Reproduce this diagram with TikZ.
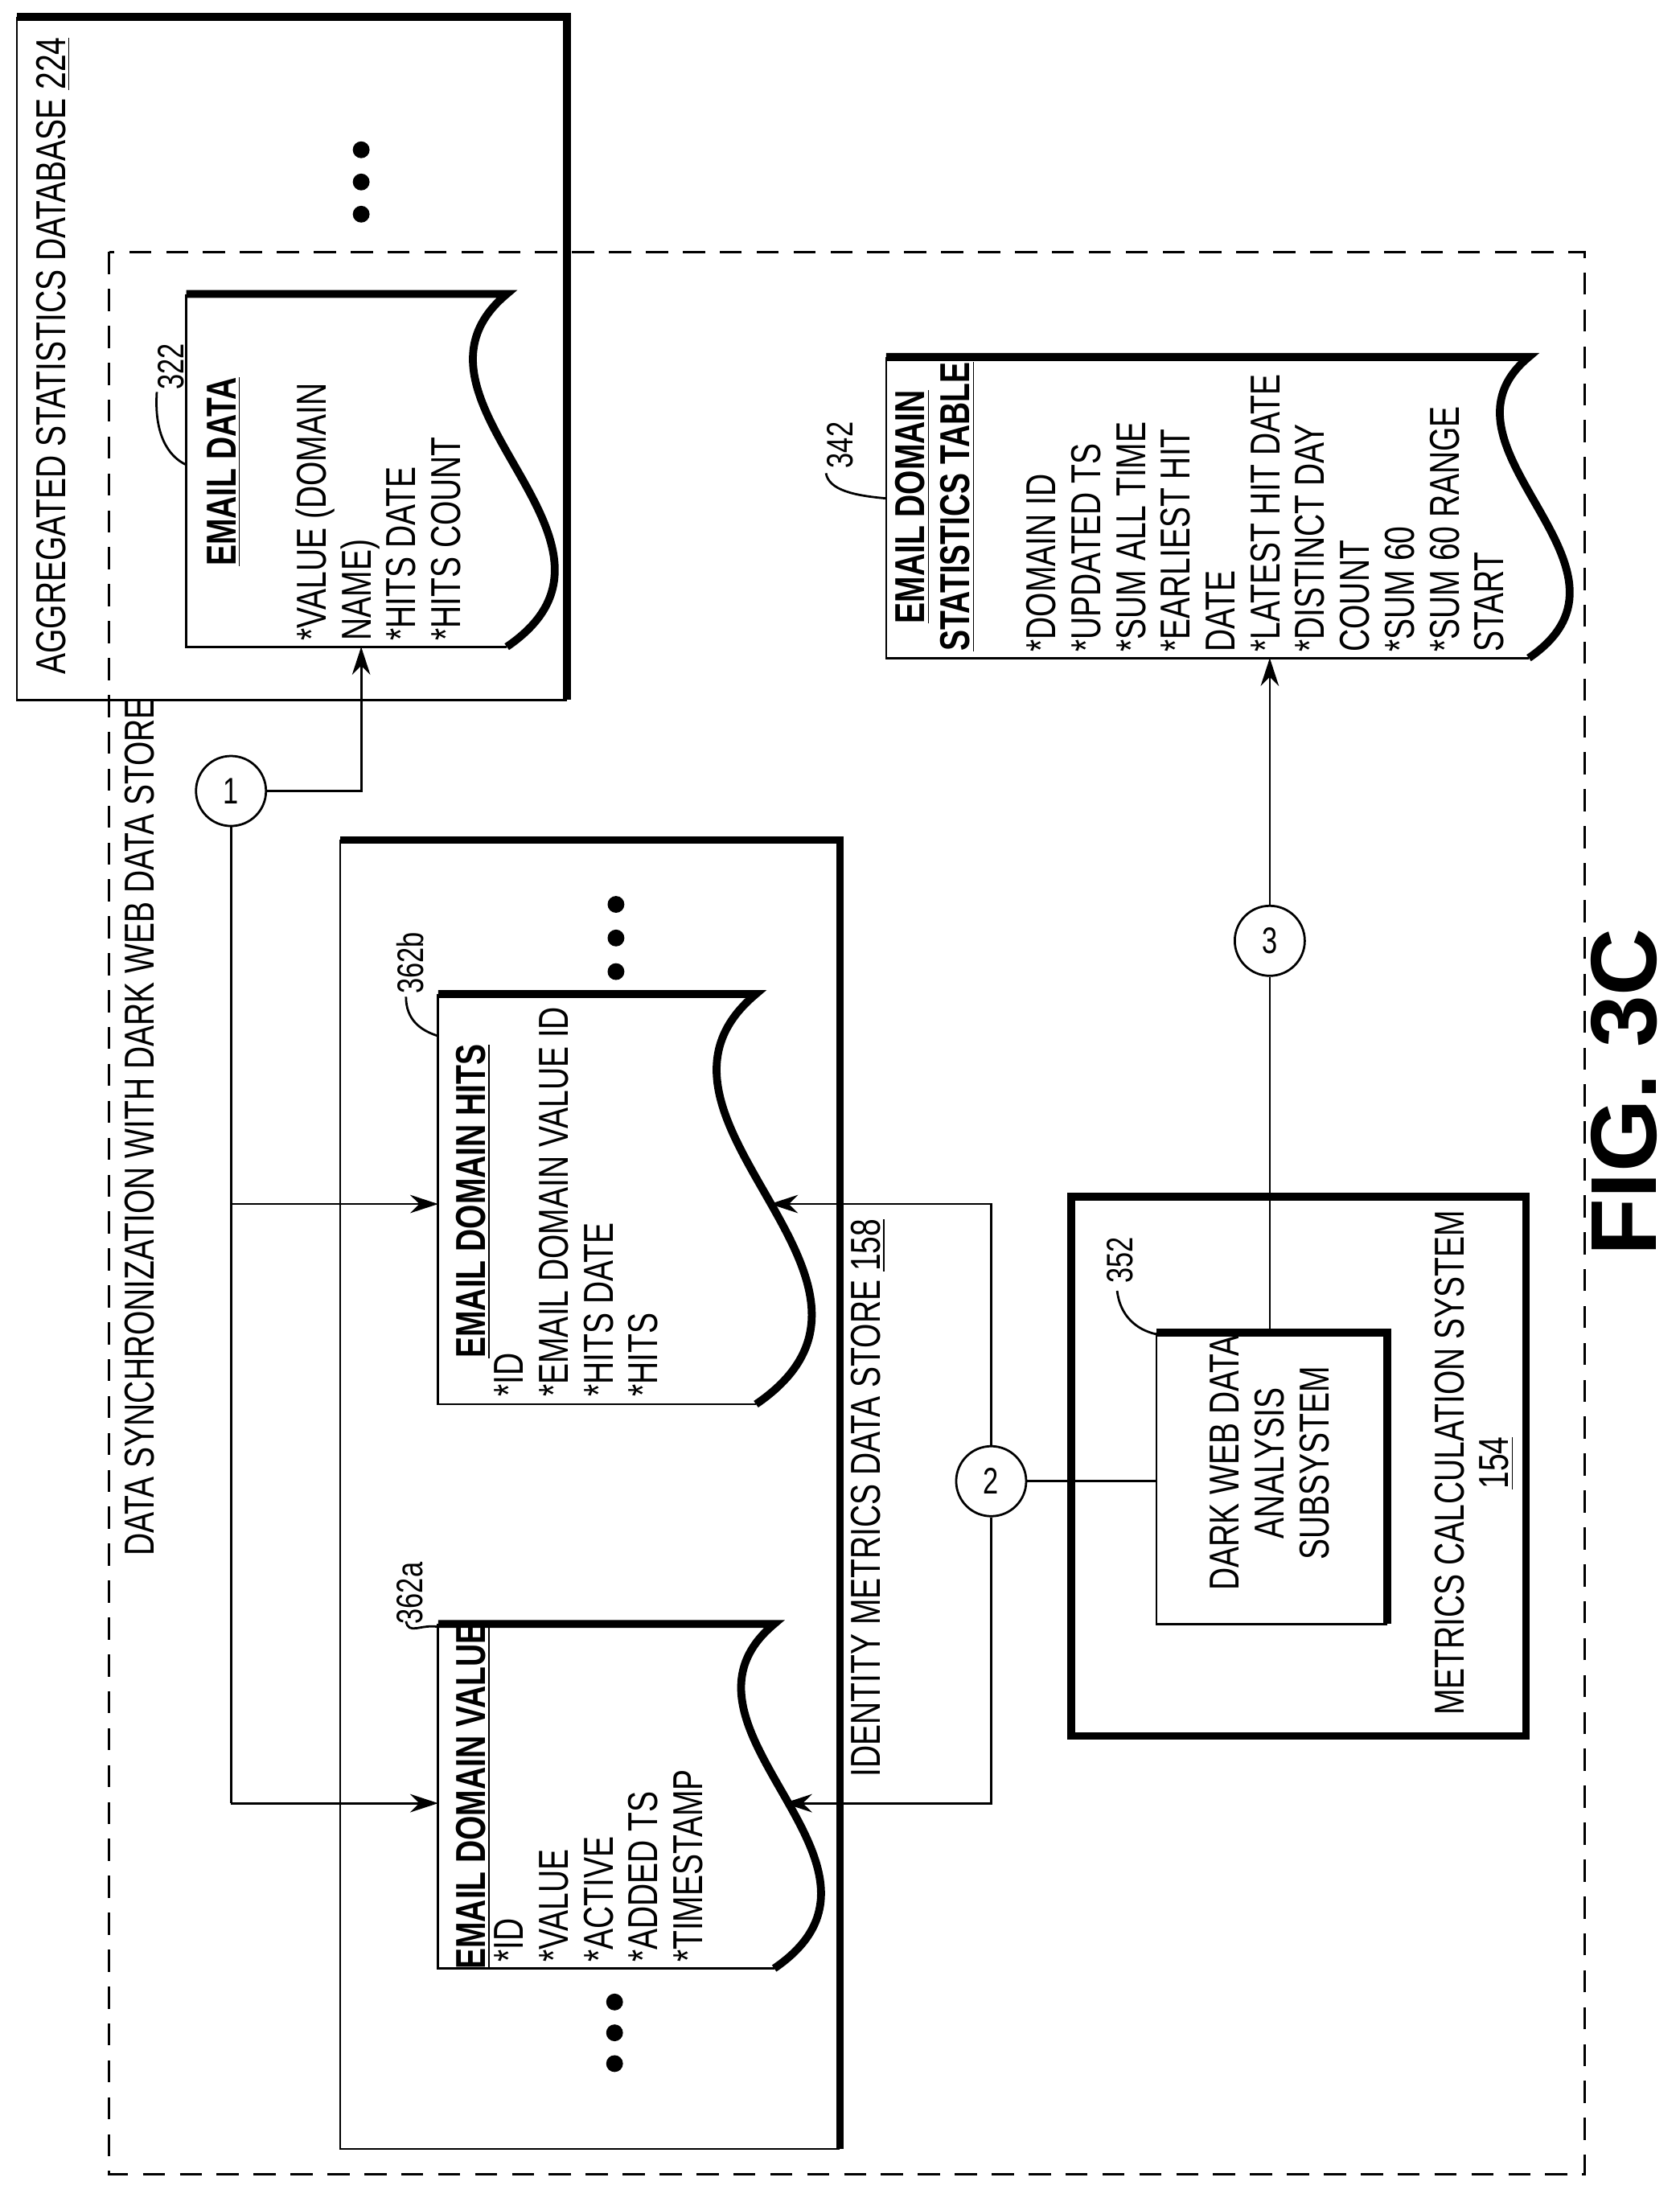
\documentclass[tikz,border=0pt]{standalone}
\usepackage{fontspec}
\setmainfont{Liberation Sans}[FakeStretch=0.75]
\newfontfamily\figfont{Liberation Sans}
\usetikzlibrary{arrows.meta,positioning,calc}

\tikzset{
  thin line/.style={line width=0.9pt},
  thick line/.style={line width=3.2pt},
  step circle/.style={draw, thin line, circle, minimum size=10mm, inner sep=0pt, font=\fontsize{15}{15}\selectfont},
  rot text/.style={rotate=90, inner sep=0pt, font=\fontsize{17}{18.2}\selectfont},
  ref label/.style={rotate=90, inner sep=0pt, font=\fontsize{15}{15}\selectfont},
  big dot/.style={fill, circle, minimum size=2.4mm, inner sep=0pt},
}

% document page: #1 L, #2 T, #3 R, #4 B
\newcommand{\docpage}[4]{%
  \draw[thin line] (#3,#4) -- (#1,#4) -- (#1,#2);
  \draw[thick line] (#1,#2) -- (#3,#2)
    .. controls ({#3-0.36*(#4-#2)},{#2+0.3*(#4-#2)}) and ({#3+0.44*(#4-#2)},{#2+0.7*(#4-#2)}) .. (#3,#4);
}
% box with heavy top and right edge
\newcommand{\shadebox}[4]{%
  \draw[thin line] (#3,#4) -- (#1,#4) -- (#1,#2);
  \draw[thick line] (#1,#2) -- (#3,#2) -- (#3,#4);
}

\begin{document}
\begin{tikzpicture}[x=0.2mm, y=-0.2mm, >={Stealth[length=4mm,width=2.6mm]}]
\useasboundingbox (0,0) rectangle (1200,1570);

% aggregated statistics database
\shadebox{12}{12}{405}{500}
\node[rot text, anchor=west] (db-agg) at (38,482) {AGGREGATED STATISTICS DATABASE \underline{224}};
\foreach \y in {107,130,153}
  \node[big dot] at (258,\y) {};

% dashed sync boundary
\draw[thin line, dash pattern=on 9pt off 6pt] (78,180) rectangle (1132,1553);
\node[rot text] (sync-label) at (100,805) {DATA SYNCHRONIZATION WITH DARK WEB DATA STORE};

% email data 322
\docpage{133}{210}{362}{462}
\node[rot text, font=\fontsize{17}{18.2}\selectfont\bfseries] (email-title) at (160,337) {\underline{EMAIL DATA}};
\node[rot text, anchor=north west, align=left] (email-body) at (211,458) {*VALUE (DOMAIN\\NAME)\\*HITS DATE\\*HITS COUNT};
\node[ref label] (lbl-322) at (122,262) {322};
\draw[thin line] (112,280) .. controls (110,310) and (120,326) .. (133,332);

% identity metrics data store
\shadebox{243}{600}{600}{1535}
\node[rot text] (store-label) at (620,1070) {IDENTITY METRICS DATA STORE \underline{158}};
\foreach \y in {646,670,694}
  \node[big dot] at (440,\y) {};
\foreach \y in {1430,1452,1474}
  \node[big dot] at (439,\y) {};

% email domain hits 362b
\docpage{313}{710}{540}{1003}
\node[rot text, font=\fontsize{17}{18.2}\selectfont\bfseries] (hits-title) at (338,858) {\underline{EMAIL DOMAIN HITS}};
\node[rot text, anchor=north west, align=left] (hits-body) at (353,998) {*ID\\*EMAIL DOMAIN VALUE ID\\*HITS DATE\\*HITS};
\node[ref label] (lbl-362b) at (293,688) {362b};
\draw[thin line] (290,712) .. controls (290,728) and (300,736) .. (313,740);

% email domain value 362a
\docpage{313}{1160}{553}{1406}
\node[rot text, font=\fontsize{17}{18.2}\selectfont\bfseries] (value-title) at (338,1283) {\underline{EMAIL DOMAIN VALUE}};
\node[rot text, anchor=north west, align=left] (value-body) at (353,1402) {*ID\\*VALUE\\*ACTIVE\\*ADDED TS\\*TIMESTAMP};
\node[ref label] (lbl-362a) at (293,1138) {362a};
\draw[thin line] (290,1158) .. controls (292,1168) and (300,1160) .. (313,1162);

% email domain statistics table 342
\docpage{633}{255}{1092}{470}
\node[rot text, align=center, font=\fontsize{17}{18.2}\selectfont\bfseries] (stats-title) at (668,362) {\underline{EMAIL DOMAIN}\\\underline{STATISTICS TABLE}};
\node[rot text, anchor=north west, align=left] (stats-body) at (733,466) {*DOMAIN ID\\*UPDATED TS\\*SUM ALL TIME\\*EARLIEST HIT\\DATE\\*LATEST HIT DATE\\*DISTINCT DAY\\COUNT\\*SUM 60\\*SUM 60 RANGE\\START};
\node[ref label] (lbl-342) at (600,318) {342};
\draw[thin line] (590,338) .. controls (592,350) and (610,354) .. (633,356);

% metrics calculation system 154
\draw[thick line] (765,855) rectangle (1090,1240);
\node[rot text, align=center] (sys-label) at (1053,1045) {METRICS CALCULATION SYSTEM\\\underline{154}};
\shadebox{826}{952}{991}{1160}
\node[rot text, align=center] (sub-dark) at (907,1045) {DARK WEB DATA\\ANALYSIS\\SUBSYSTEM};
\node[ref label] (lbl-352) at (800,900) {352};
\draw[thin line] (798,922) .. controls (800,940) and (812,950) .. (826,953);

% step circles
\node[step circle] (c1) at (165,565) {1};
\node[step circle] (c2) at (708,1058) {2};
\node[step circle] (c3) at (907,672) {3};

% connector end points
\coordinate (email-in) at (258,462);
\coordinate (hits-in) at (313,860);
\coordinate (value-in) at (313,1288);
\coordinate (hits-wave) at (550,860);
\coordinate (value-wave) at (560,1288);
\coordinate (sub-west) at (826,1058);
\coordinate (sub-north) at (907,952);
\coordinate (stats-in) at (907,470);

\draw[thin line, ->] (c1.east) -| (email-in);
\draw[thin line] (c1.south) -- (165,1288);
\draw[thin line, ->] (165,860) -- (hits-in);
\draw[thin line, ->] (165,1288) -- (value-in);
\draw[thin line] (c2.east) -- (sub-west);
\draw[thin line, ->] (c2.north) |- (hits-wave);
\draw[thin line, ->] (c2.south) |- (value-wave);
\draw[thin line] (sub-north) -- (c3.south);
\draw[thin line, ->] (c3.north) -- (stats-in);

\node[rotate=90, font=\figfont\fontsize{38}{38}\selectfont\bfseries] (fig-label) at (1160,780) {FIG. 3C};
\end{tikzpicture}
\end{document}
